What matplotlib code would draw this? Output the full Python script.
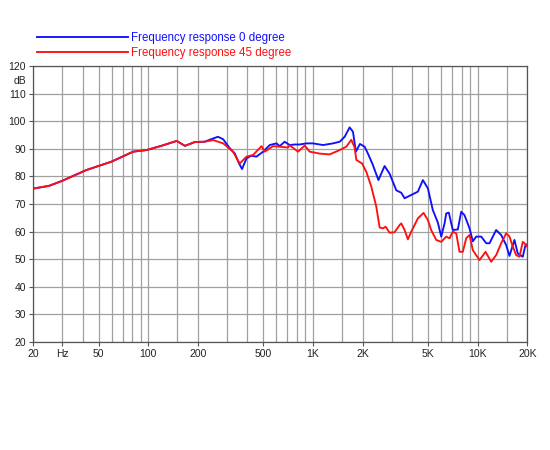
import matplotlib
matplotlib.use("Agg")
import matplotlib.pyplot as plt
from matplotlib.ticker import FixedLocator, FixedFormatter, NullFormatter

plt.rcParams['font.family'] = ['Liberation Sans', 'DejaVu Sans']

# ---- data ----
freq_45 = [20, 25, 30, 42, 60, 81, 98, 120, 149, 167, 192, 220, 248, 285, 327, 359,
           395, 433, 487, 509, 572, 628, 705, 722, 811, 890, 955, 1098, 1262, 1452,
           1593, 1708, 1788, 1832, 1986, 2105, 2258, 2422, 2536, 2656, 2756, 2916,
           3126, 3352, 3432, 3594, 3764, 3944, 4326, 4686, 4976, 5218, 5594, 5998,
           6430, 6734, 7050, 7396, 7744, 8110, 8502, 8904, 9324, 10234, 11132, 12052,
           12914, 13856, 14860, 15560, 16294, 17086, 17890, 18730, 19180, 20000]
db_45 = [75.6, 76.6, 78.4, 82.3, 85.4, 89.0, 89.6, 91.1, 92.9, 91.1, 92.5, 92.6, 93.2,
         92.0, 89.0, 84.7, 87.2, 87.8, 91.0, 89.0, 91.0, 90.8, 90.5, 91.3, 89.0, 91.2,
         89.0, 88.3, 88.0, 89.6, 90.8, 93.3, 90.5, 86.0, 84.7, 81.7, 76.3, 69.0, 61.5,
         61.2, 61.8, 59.6, 59.8, 62.4, 63.0, 60.6, 57.2, 60.0, 64.8, 66.8, 64.2, 60.5,
         57.0, 56.3, 58.2, 57.6, 60.0, 59.4, 52.7, 52.7, 57.6, 58.8, 53.3, 49.7, 52.7,
         49.1, 51.5, 55.8, 59.4, 58.2, 54.6, 51.5, 50.9, 56.3, 55.8, 54.5]

freq_0 = [20, 25, 30, 42, 60, 81, 98, 120, 149, 167, 192, 220, 248, 265, 285, 313, 335,
          356, 371, 395, 423, 454, 498, 546, 600, 628, 673, 722, 774, 830, 912, 1000,
          1149, 1321, 1452, 1556, 1668, 1748, 1820, 1926, 2056, 2154, 2310, 2494, 2718,
          2916, 3200, 3432, 3594, 3944, 4326, 4640, 4976, 5334, 5720, 5998, 6282, 6430,
          6670, 6897, 7050, 7562, 7926, 8301, 8904, 9324, 9774, 10484, 11246, 11774,
          12914, 13856, 14860, 15560, 16680, 17466, 18730, 19452, 20000]
db_0 = [75.6, 76.6, 78.4, 82.3, 85.4, 89.0, 89.6, 91.1, 92.9, 91.1, 92.5, 92.6, 93.8,
        94.4, 93.5, 90.2, 88.4, 84.7, 82.7, 86.6, 87.5, 87.2, 89.0, 91.4, 92.0, 91.0,
        92.6, 91.4, 91.6, 91.6, 92.0, 92.0, 91.4, 92.0, 92.6, 94.4, 97.8, 96.2, 89.0,
        91.8, 90.8, 88.3, 84.1, 78.7, 83.8, 81.0, 75.0, 74.1, 72.1, 73.3, 74.5, 78.7,
        75.7, 67.8, 63.3, 58.2, 63.0, 66.6, 66.9, 63.0, 60.6, 60.8, 67.2, 66.0, 61.2,
        56.5, 58.2, 58.2, 55.8, 55.8, 60.6, 58.8, 55.1, 51.2, 57.0, 52.1, 50.9, 55.1, 55.5]

labels = ['Frequency response 0 degree', 'Frequency response 45 degree']

x_major = [20, 30, 50, 100, 200, 500, 1000, 2000, 5000, 10000, 20000]
x_major_labels = ['20', 'Hz', '50', '100', '200', '500', '1K', '2K', '5K', '10K', '20K']
x_minor = [40, 60, 70, 80, 90, 150, 300, 400, 600, 700, 800, 900, 1500, 3000, 4000,
           6000, 7000, 8000, 9000, 15000]
y_major = [20, 30, 40, 50, 60, 70, 80, 90, 100, 110, 120]

# ---- figure ----
fig = plt.figure(figsize=(5.5, 4.5), dpi=100)
ax = fig.add_axes([0.06, 0.24, 0.899, 0.613])

l0, = ax.plot(freq_0, db_0, color='#1010ff', lw=1.35, zorder=3)
l1, = ax.plot(freq_45, db_45, color='#ff1010', lw=1.35, zorder=4)

ax.set_xscale('log')
ax.set_xlim(20, 20000)
ax.set_ylim(20, 120)

ax.xaxis.set_major_locator(FixedLocator(x_major))
ax.xaxis.set_major_formatter(FixedFormatter(x_major_labels))
ax.xaxis.set_minor_locator(FixedLocator(x_minor))
ax.xaxis.set_minor_formatter(NullFormatter())
ax.yaxis.set_major_locator(FixedLocator(y_major))
ax.set_yticklabels([str(v) for v in y_major])
ax.yaxis.set_minor_locator(FixedLocator([115]))
ax.yaxis.set_minor_formatter(FixedFormatter(['dB']))

ax.grid(True, which='both', axis='x', color='#a0a0a0', lw=0.9)
ax.grid(True, which='major', axis='y', color='#a0a0a0', lw=0.9)
ax.set_axisbelow(True)

ax.tick_params(axis='both', which='major', length=3, width=0.8, color='#555555',
               labelsize=7.5, labelcolor='#222222', pad=2)
ax.tick_params(axis='x', which='minor', length=0)
ax.tick_params(axis='y', which='minor', length=0, labelsize=7.5,
               labelcolor='#222222', pad=5)
for s in ax.spines.values():
    s.set_color('#555555')
    s.set_linewidth(0.9)

leg = fig.legend([l0, l1], labels, loc='upper left', bbox_to_anchor=(0.048, 0.952),
                 frameon=False, handlelength=7.9, handletextpad=0.3,
                 labelspacing=0.25, fontsize=8.3, labelcolor='linecolor')

fig.savefig('out.png', dpi=100)
